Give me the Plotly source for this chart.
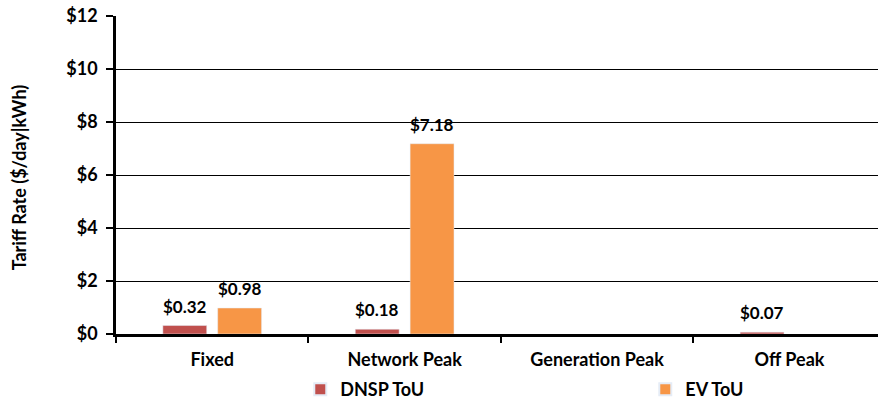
import plotly.graph_objects as go

categories = ["Fixed", "Network Peak", "Generation Peak", "Off Peak"]
dnsp_tou = [0.32, 0.18, None, 0.07]
ev_tou = [0.98, 7.18, None, None]
y_ticks = [0, 2, 4, 6, 8, 10, 12]
y_tick_labels = ["$" + str(v) for v in y_ticks]
y_title = "Tariff Rate ($/day|kWh)"

FONT = "Lato"
label_font = dict(family=FONT, size=17, color="black", weight="bold")

fig = go.Figure()
series = [("DNSP ToU", dnsp_tou, "#C0504D", 0), ("EV ToU", ev_tou, "#F79646", 1)]
for name, values, color, idx in series:
    fig.add_trace(go.Bar(
        name=name, x=categories, y=values,
        marker=dict(color=color), offsetgroup=str(idx),
    ))

# Value labels sit a little above each bar, centred on it
slot = (1 - 0.43) / 2
for name, values, color, idx in series:
    offset = (idx - 0.5) * slot
    for i, v in enumerate(values):
        if v is None:
            continue
        fig.add_annotation(
            x=i + offset, y=v, xref="x", yref="y",
            text="$%.2f" % v, showarrow=False,
            yanchor="bottom", yshift=7,
            font=label_font,
        )

# Rotated y-axis title placed in the left margin
fig.add_annotation(
    text=y_title, xref="paper", yref="paper",
    x=-0.128, y=0.494, xanchor="center", yanchor="middle",
    textangle=-90, showarrow=False,
    font=dict(family=FONT, size=18, color="black", weight="bold"),
)

fig.update_layout(
    width=878, height=402,
    margin=dict(l=116, r=0, t=16, b=68, autoexpand=False),
    plot_bgcolor="white", paper_bgcolor="white",
    barmode="group", bargap=0.43, bargroupgap=0.2,
    font=dict(family=FONT, color="black"),
    showlegend=True,
    legend=dict(
        orientation="h", xref="container", yref="paper",
        x=0.342, y=-0.175, xanchor="left", yanchor="middle",
        entrywidth=300, entrywidthmode="pixels",
        font=dict(family=FONT, size=18, color="black", weight="bold"),
        itemsizing="constant",
    ),
    xaxis=dict(
        type="category",
        range=[-0.5, 3.46],
        showline=True, linecolor="black", linewidth=2.5,
        ticks="outside", tickson="boundaries", ticklen=6, tickwidth=2, tickcolor="black",
        tickfont=dict(family=FONT, size=18, color="black", weight="bold"),
        ticklabelstandoff=8,
        showgrid=False,
    ),
    yaxis=dict(
        range=[0, 12], tickvals=y_ticks, ticktext=y_tick_labels,
        showline=True, linecolor="black", linewidth=2.5,
        ticks="outside", ticklen=7, tickwidth=2, tickcolor="black",
        tickfont=dict(family=FONT, size=18, color="black", weight="bold"),
        ticklabelstandoff=5,
        showgrid=True, gridcolor="black", gridwidth=1,
        zeroline=False,
    ),
)

fig.write_html("out.html")
